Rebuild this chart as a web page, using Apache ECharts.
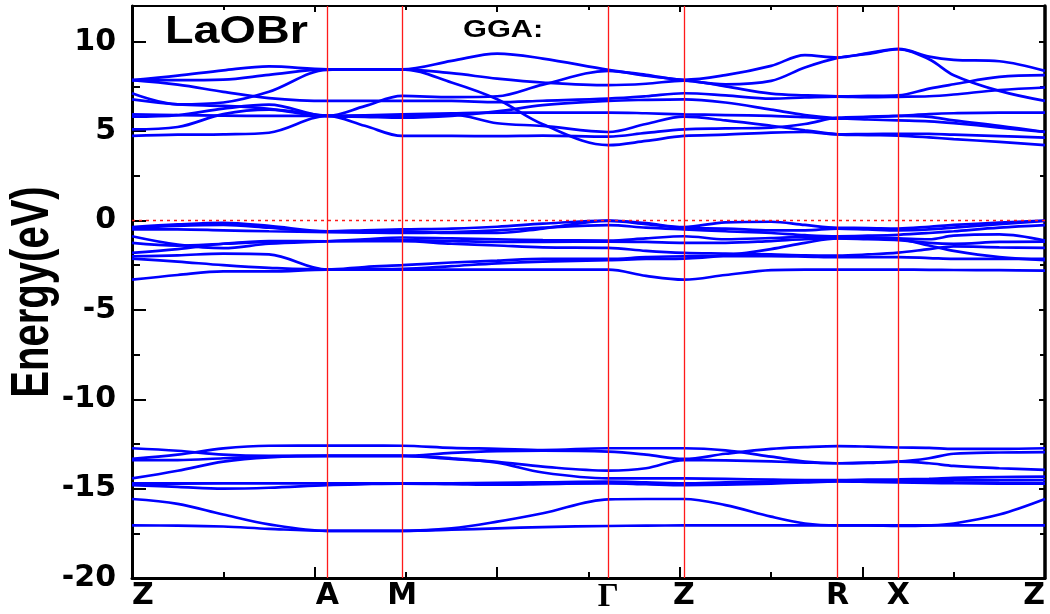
<!DOCTYPE html>
<html>
<head>
<meta charset="utf-8">
<title>LaOBr band structure (GGA)</title>
<script src="https://cdn.jsdelivr.net/npm/echarts@6/dist/echarts.min.js"></script>
<style>
  html, body { margin: 0; padding: 0; background: #ffffff; }
  #chart { width: 1050px; height: 614px; }
</style>
</head>
<body>
<div id="chart"></div>
<script>
// k-path sampling (path length units along Z-A-M-Γ-Z-R-X-Z)
const kPath = [0, 0.5, 1.0, 1.5, 2.139, 2.55, 2.96, 3.5, 4.0, 4.5, 5.217, 5.63, 6.046,
               6.5, 7.0, 7.37, 7.729, 8.06, 8.393, 8.73, 9.0, 9.5, 10];

// high-symmetry points
const symPoints = [0, 2.139, 2.96, 5.217, 6.046, 7.729, 8.393, 10];
const symLabels = ['Z', 'A', 'M', 'Γ', 'Z', 'R', 'X', 'Z'];

// energy axis (eV)
const energyMin = -20;
const energyMax = 12;
const energyStep = 5;

// conduction bands (eV)
const cond1 = [7.85, 8.10, 8.40, 8.62, 8.46, 8.46, 8.46, 8.93, 9.34, 9.06, 8.43, 8.15, 7.87, 8.13, 8.65, 9.25, 9.12, 9.36, 9.60, 9.17, 8.99, 8.91, 8.37];
const cond2 = [7.85, 7.85, 7.88, 8.15, 8.46, 8.46, 8.46, 8.24, 7.94, 7.72, 7.57, 7.65, 7.83, 7.50, 7.10, 7.00, 6.95, 6.97, 7.00, 7.38, 7.62, 8.03, 8.13];
const cond3 = [7.85, 7.60, 7.20, 6.85, 6.69, 6.69, 6.69, 6.69, 6.62, 6.70, 6.82, 6.95, 7.12, 7.00, 6.82, 6.88, 6.93, 6.90, 6.92, 6.95, 7.05, 7.30, 7.44];
const cond4 = [7.12, 6.50, 6.60, 7.20, 8.43, 8.45, 8.46, 7.72, 6.78, 5.38, 4.22, 4.45, 4.73, 4.80, 4.92, 4.95, 4.82, 4.84, 4.85, 4.85, 4.80, 4.72, 4.64];
const cond5 = [6.78, 6.50, 6.41, 6.25, 5.85, 6.40, 6.97, 6.90, 6.95, 7.60, 8.37, 8.10, 7.85, 7.62, 7.81, 8.56, 9.10, 9.32, 9.58, 9.02, 8.13, 7.25, 6.69];
const cond6 = [5.94, 5.90, 5.87, 5.85, 5.85, 5.88, 5.94, 6.00, 6.04, 6.04, 6.04, 6.00, 5.94, 5.90, 5.85, 5.78, 5.70, 5.78, 5.85, 5.95, 6.00, 6.04, 6.04];
const cond7 = [5.81, 5.90, 6.26, 6.48, 5.85, 5.85, 5.85, 5.94, 5.44, 5.29, 4.95, 5.40, 5.81, 5.60, 5.30, 5.05, 4.82, 4.78, 4.75, 4.65, 4.55, 4.40, 4.22];
const cond8 = [5.10, 5.23, 5.95, 6.20, 5.85, 5.80, 5.75, 5.85, 6.10, 6.45, 6.69, 6.75, 6.78, 6.60, 6.20, 5.90, 5.72, 5.65, 5.60, 5.55, 5.45, 5.20, 4.95];
const cond9 = [4.73, 4.80, 4.82, 4.91, 5.85, 5.30, 4.73, 4.73, 4.72, 4.75, 4.69, 4.90, 5.10, 5.15, 5.20, 5.40, 5.75, 5.80, 5.85, 5.80, 5.60, 5.30, 4.95];

// valence bands (eV), VBM at 0
const val1 = [-0.37, -0.22, -0.13, -0.30, -0.60, -0.55, -0.50, -0.45, -0.35, -0.18, 0.00, -0.15, -0.37, -0.10, -0.07, -0.25, -0.41, -0.42, -0.45, -0.35, -0.25, -0.12, 0.00];
const val2 = [-0.42, -0.30, -0.25, -0.40, -0.62, -0.61, -0.60, -0.70, -0.70, -0.45, -0.02, -0.20, -0.42, -0.45, -0.55, -0.55, -0.45, -0.50, -0.55, -0.50, -0.40, -0.20, -0.02];
const val3 = [-0.50, -0.50, -0.55, -0.60, -0.65, -0.68, -0.70, -0.65, -0.55, -0.40, -0.26, -0.40, -0.50, -0.60, -0.70, -0.82, -0.88, -0.85, -0.80, -0.70, -0.60, -0.40, -0.26];
const val4 = [-0.88, -1.35, -1.55, -1.30, -1.16, -1.05, -0.95, -1.00, -1.05, -1.10, -1.12, -1.00, -0.88, -1.05, -0.98, -0.92, -0.95, -0.97, -1.00, -1.05, -0.85, -0.78, -1.12];
const val5 = [-1.25, -1.40, -1.30, -1.20, -1.16, -1.13, -1.10, -1.15, -1.20, -1.20, -1.18, -1.20, -1.25, -1.25, -1.15, -1.05, -1.00, -1.05, -1.10, -1.25, -1.30, -1.20, -1.18];
const val6 = [-1.81, -1.60, -1.30, -1.15, -1.16, -1.16, -1.16, -1.30, -1.40, -1.50, -1.53, -1.70, -1.81, -1.85, -1.90, -1.95, -1.96, -1.90, -1.80, -1.60, -1.45, -1.50, -1.53];
const val7 = [-2.00, -1.95, -1.85, -1.90, -2.75, -2.60, -2.50, -2.35, -2.25, -2.15, -2.15, -2.05, -2.00, -2.00, -2.00, -2.02, -2.05, -2.05, -2.05, -2.10, -2.15, -2.15, -2.15];
const val8 = [-2.13, -2.30, -2.50, -2.65, -2.75, -2.72, -2.70, -2.55, -2.40, -2.30, -2.22, -2.15, -2.13, -1.95, -1.60, -1.25, -1.00, -1.00, -1.05, -1.40, -1.70, -2.05, -2.22];
const val9 = [-3.31, -3.05, -2.85, -2.85, -2.75, -2.75, -2.75, -2.75, -2.75, -2.75, -2.75, -3.10, -3.31, -3.05, -2.78, -2.75, -2.75, -2.75, -2.75, -2.76, -2.77, -2.78, -2.80];

// semicore bands (eV)
const core1 = [-12.74, -12.88, -13.10, -13.17, -13.17, -13.17, -13.17, -13.00, -12.90, -12.87, -12.93, -13.10, -13.34, -13.05, -12.78, -12.68, -12.62, -12.65, -12.70, -12.72, -12.78, -12.78, -12.74];
const core2 = [-13.34, -13.10, -12.75, -12.60, -12.59, -12.59, -12.60, -12.72, -12.77, -12.84, -12.74, -12.74, -12.74, -12.86, -13.21, -13.49, -13.58, -13.56, -13.49, -13.58, -13.73, -13.86, -13.95];
const core3 = [-13.40, -13.40, -13.30, -13.20, -13.17, -13.17, -13.17, -13.34, -13.50, -13.77, -13.99, -13.86, -13.40, -13.42, -13.48, -13.54, -13.58, -13.54, -13.49, -13.30, -13.05, -12.98, -12.96];
const core4 = [-14.43, -14.00, -13.49, -13.25, -13.17, -13.17, -13.17, -13.30, -13.55, -14.10, -14.43, -14.43, -14.43, -14.45, -14.50, -14.52, -14.52, -14.50, -14.48, -14.45, -14.40, -14.35, -14.33];
const core5 = [-14.70, -14.70, -14.70, -14.70, -14.70, -14.70, -14.70, -14.70, -14.68, -14.65, -14.61, -14.65, -14.70, -14.65, -14.60, -14.57, -14.55, -14.55, -14.55, -14.54, -14.53, -14.52, -14.52];
const core6 = [-14.75, -14.72, -14.70, -14.70, -14.70, -14.70, -14.70, -14.70, -14.70, -14.70, -14.70, -14.72, -14.75, -14.70, -14.65, -14.60, -14.58, -14.58, -14.60, -14.62, -14.65, -14.68, -14.70];
const core7 = [-14.80, -14.90, -15.00, -14.95, -14.80, -14.75, -14.72, -14.75, -14.78, -14.75, -14.70, -14.75, -14.80, -14.78, -14.72, -14.65, -14.60, -14.62, -14.65, -14.68, -14.70, -14.72, -14.72];
const core8 = [-15.58, -15.85, -16.45, -17.00, -17.36, -17.36, -17.36, -17.22, -16.85, -16.38, -15.60, -15.58, -15.58, -15.92, -16.57, -16.95, -17.06, -17.06, -17.09, -17.06, -16.95, -16.45, -15.58];
const core9 = [-17.06, -17.07, -17.12, -17.25, -17.36, -17.36, -17.36, -17.30, -17.22, -17.15, -17.09, -17.07, -17.06, -17.06, -17.06, -17.06, -17.06, -17.06, -17.06, -17.06, -17.06, -17.06, -17.06];

const bands = [cond1, cond2, cond3, cond4, cond5, cond6, cond7, cond8, cond9,
               val1, val2, val3, val4, val5, val6, val7, val8, val9,
               core1, core2, core3, core4, core5, core6, core7, core8, core9];

const BLUE = '#0000ff';
const RED = '#ff1a1a';
const tickFont = 'DejaVu Sans';

const series = bands.map(function (b) {
  return {
    type: 'line',
    data: kPath.map(function (k, i) { return [k, b[i]]; }),
    smooth: 0.35,
    symbol: 'none',
    silent: true,
    lineStyle: { color: BLUE, width: 2.7 },
    z: 3
  };
});

// vertical guides at interior high-symmetry points and the Fermi level
series.push({
  type: 'line',
  data: [],
  silent: true,
  z: 5,
  markLine: {
    silent: true,
    symbol: 'none',
    label: { show: false },
    animation: false,
    data: symPoints.slice(1, -1).map(function (v) {
      return { xAxis: v, lineStyle: { color: RED, width: 1.3, type: 'solid' } };
    }).concat([{ yAxis: 0, lineStyle: { color: RED, width: 1.4, type: [3, 4] } }])
  }
});

const chart = echarts.init(document.getElementById('chart'), null, { renderer: 'canvas' });

chart.setOption({
  animation: false,
  backgroundColor: '#ffffff',
  grid: { left: 132, right: 5, top: 6, bottom: 36, containLabel: false },
  xAxis: [
    {
      type: 'value', min: 0, max: 10, interval: 2, position: 'bottom',
      axisLine: { show: true, onZero: false, lineStyle: { color: '#000', width: 3 } },
      axisTick: { show: true, inside: true, length: 11, lineStyle: { color: '#000', width: 2 } },
      minorTick: { show: true, splitNumber: 2, length: 6, lineStyle: { color: '#000', width: 2 } },
      splitLine: { show: false },
      axisLabel: {
        show: true,
        customValues: symPoints,
        margin: 3,
        alignMinLabel: 'left',
        alignMaxLabel: 'right',
        color: '#000',
        fontFamily: tickFont,
        fontWeight: 'bold',
        fontSize: 30,
        formatter: function (v) {
          const i = symPoints.findIndex(function (p) { return Math.abs(p - v) < 1e-6; });
          const name = i >= 0 ? symLabels[i] : '';
          return name === 'Γ' ? '{g|Γ}' : name;
        },
        rich: {
          g: { fontFamily: 'Liberation Serif', fontWeight: 'bold', fontSize: 33, color: '#000' }
        }
      }
    },
    {
      type: 'value', min: 0, max: 10, interval: 2, position: 'top',
      axisLine: { show: true, onZero: false, lineStyle: { color: '#000', width: 2 } },
      axisTick: { show: true, inside: true, length: 6, lineStyle: { color: '#000', width: 2 } },
      minorTick: { show: true, splitNumber: 2, length: 4, lineStyle: { color: '#000', width: 2 } },
      splitLine: { show: false },
      axisLabel: { show: false }
    }
  ],
  yAxis: [
    {
      type: 'value', min: energyMin, max: energyMax, interval: energyStep, position: 'left',
      axisLine: { show: true, onZero: false, lineStyle: { color: '#000', width: 3 } },
      axisTick: { show: true, inside: true, length: 14, lineStyle: { color: '#000', width: 2 } },
      minorTick: { show: true, splitNumber: 2, length: 8, lineStyle: { color: '#000', width: 2 } },
      splitLine: { show: false },
      axisLabel: {
        show: true, margin: 16, showMaxLabel: false,
        color: '#000', fontFamily: tickFont, fontWeight: 'bold', fontSize: 30
      }
    },
    {
      type: 'value', min: energyMin, max: energyMax, interval: energyStep, position: 'right',
      axisLine: { show: true, onZero: false, lineStyle: { color: '#000', width: 3.5 } },
      axisTick: { show: true, inside: true, length: 6, lineStyle: { color: '#000', width: 2 } },
      minorTick: { show: true, splitNumber: 2, length: 5, lineStyle: { color: '#000', width: 2 } },
      splitLine: { show: false },
      axisLabel: { show: false }
    }
  ],
  graphic: [
    {
      type: 'text', left: 165, top: 14, z: 10, scaleX: 1.23,
      style: { text: 'LaOBr', fill: '#000', font: 'bold 38px "Liberation Sans", Arial, sans-serif' }
    },
    {
      type: 'text', left: 463, top: 18, z: 10, scaleX: 1.28,
      style: { text: 'GGA:', fill: '#000', font: 'bold 24px "Liberation Sans", Arial, sans-serif' }
    },
    {
      type: 'text', x: 33, y: 292, rotation: Math.PI / 2, scaleX: 0.91, scaleY: 1.24, z: 10,
      style: {
        text: 'Energy(eV)', fill: '#000', align: 'center', verticalAlign: 'middle',
        font: 'bold 44px "Liberation Sans", Arial, sans-serif'
      }
    }
  ],
  series: series
});
</script>
</body>
</html>
